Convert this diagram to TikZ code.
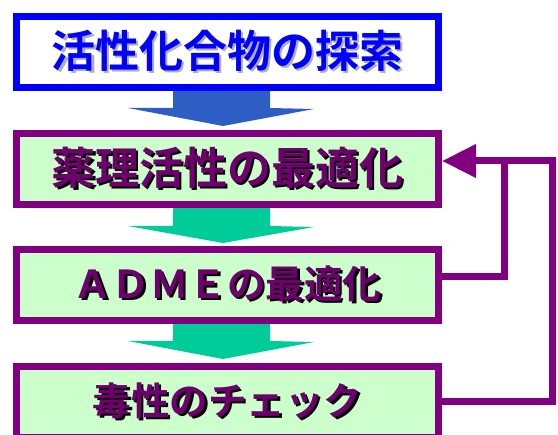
\documentclass[tikz,border=0pt]{standalone}
\usepackage{fontspec}
\newfontfamily\jp{Noto Sans CJK JP}[BoldFont={Noto Sans CJK JP Bold}]
\usetikzlibrary{arrows.meta,calc}
\definecolor{boxblue}{RGB}{0,0,255}
\definecolor{boxpurple}{RGB}{128,0,128}
\definecolor{txtpurple}{RGB}{110,0,110}
\definecolor{boxgreen}{RGB}{204,255,204}
\definecolor{arrblue}{RGB}{46,94,196}
\definecolor{arrgreen}{RGB}{0,204,153}
\definecolor{shadowgray}{RGB}{175,175,175}
\newcommand{\shadowtext}[2]{\rlap{\kern2.5pt\raisebox{-2.5pt}{\color{#1}#2}}#2}
\begin{document}
\begin{tikzpicture}[x=1pt,y=-1pt,
  basebox/.style={line width=7pt, minimum width=422pt, minimum height=71pt, inner sep=0pt},
  topbox/.style={basebox, draw=boxblue, fill=white},
  stepbox/.style={basebox, draw=boxpurple, fill=boxgreen},
  bigtxt/.style={inner sep=0pt, font=\jp\bfseries\fontsize{44}{44}\selectfont},
  smalltxt/.style={inner sep=0pt, font=\jp\bfseries\fontsize{38.5}{38.5}\selectfont},
  fb/.style={draw=boxpurple, line width=7pt}]
\useasboundingbox (0,0) rectangle (558,435);
\clip (0,0) rectangle (558,435);
% block arrows
\fill[arrblue] (173,86) -- (270,86) -- (270,108) -- (314,109) -- (223,126) -- (128,108) -- (173,108) -- cycle;
\fill[arrgreen] (173,202) -- (270,202) -- (270,226) -- (314,227) -- (223,243) -- (128,226) -- (173,226) -- cycle;
\fill[arrgreen] (173,318) -- (270,318) -- (270,341) -- (314,342) -- (223,359) -- (128,341) -- (173,341) -- cycle;
% boxes
\node[topbox] (b1) at (227.5,52) {};
\node[stepbox] (b2) at (227.5,169) {};
\node[stepbox] (b3) at (227.5,285) {};
\node[stepbox] (b4) at (227.5,402) {};
% texts with shadows
\node[bigtxt, text=boxblue] (t1) at (b1.center) {\shadowtext{shadowgray}{活性化合物の探索}};
\node[bigtxt, text=txtpurple] (t2) at (b2.center) {\shadowtext{black}{薬理活性の最適化}};
\node[smalltxt, text=txtpurple] (t3) at (b3.center) {\shadowtext{black}{ＡＤＭＥの最適化}};
\node[smalltxt, text=txtpurple] (t4) at (b4.center) {\shadowtext{black}{毒性のチェック}};
% feedback
\coordinate (c1) at (552.5,161);
\coordinate (c2) at (504,161);
\draw[fb] ([yshift=8pt]b3.east) -| (c2);
\draw[fb, -{Triangle[length=34pt,width=32pt]}] (b4.east) -| (c1) -- ([yshift=8pt]b2.east);
\end{tikzpicture}
\end{document}
